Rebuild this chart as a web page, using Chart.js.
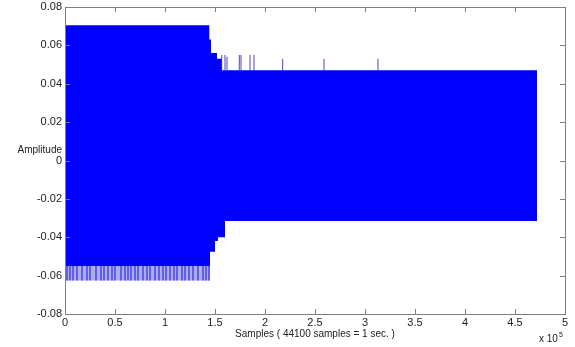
<!DOCTYPE html>
<html>
<head>
<meta charset="utf-8">
<script src="https://cdn.jsdelivr.net/npm/chart.js@4.4.1/dist/chart.umd.min.js"></script>
<style>
  html, body { margin: 0; padding: 0; background: #fff; }
  canvas { display: block; }
</style>
</head>
<body>
<canvas id="wave-chart" width="575" height="347"></canvas>
<script>
// Envelope of the waveform (x in units of 10^5 samples), stepped
const envX     = [0, 1.443, 1.45, 1.46, 1.5, 1.52, 1.53, 1.567, 1.6, 4.72];
const envUpper = [0.0705, 0.063, 0.063, 0.056, 0.056, 0.053, 0.053, 0.047, 0.047, 0.047];
const envLower = [-0.055, -0.055, -0.0475, -0.0475, -0.042, -0.042, -0.040, -0.040, -0.0315, -0.0315];

// Isolated peaks above the second block
const peakX    = [1.567, 1.60, 1.62, 1.743, 1.76, 1.85, 1.89, 2.177, 2.59, 3.13];
const peakTop  = [0.055, 0.055, 0.054, 0.055, 0.055, 0.055, 0.055, 0.053, 0.053, 0.053];
const peakBase = 0.047;

// Dense negative peaks under the first block
const troughX = [0.02, 0.05, 0.08, 0.12, 0.17, 0.22, 0.25, 0.31, 0.36, 0.39, 0.43, 0.47, 0.5,
                 0.56, 0.6, 0.63, 0.66, 0.7, 0.73, 0.78, 0.82, 0.85, 0.9, 0.94, 0.98, 1.01,
                 1.05, 1.09, 1.12, 1.17, 1.2, 1.24, 1.28, 1.33, 1.38, 1.41, 1.44];
const troughBottom = -0.0625;
const troughBase = -0.055;
const troughEnd = 1.45;

// Axis ticks
const xTicks = [0, 0.5, 1, 1.5, 2, 2.5, 3, 3.5, 4, 4.5, 5];
const yTicks = [-0.08, -0.06, -0.04, -0.02, 0, 0.02, 0.04, 0.06, 0.08];

const BLUE = '#0000ff';
const AXIS = '#808080';
const TEXT = '#222222';
const FONT = 'Liberation Sans, Arial, sans-serif';

// Turn x positions into vertical segments separated by gaps
function segments(xs, lo, hi) {
  const pts = [];
  xs.forEach((x, i) => {
    const top = Array.isArray(hi) ? hi[i] : hi;
    pts.push({ x: x, y: lo }, { x: x, y: top }, { x: NaN, y: NaN });
  });
  return pts;
}

// Box and inward ticks, MATLAB style, plus axis titles
const matlabAxes = {
  id: 'matlabAxes',
  afterDraw(chart) {
    const { ctx, chartArea: a, scales } = chart;
    ctx.save();
    ctx.strokeStyle = AXIS;
    ctx.lineWidth = 1;
    ctx.strokeRect(Math.round(a.left) + 0.5, Math.round(a.top) + 0.5,
                   Math.round(a.right - a.left), Math.round(a.bottom - a.top));
    ctx.beginPath();
    scales.x.ticks.forEach(t => {
      const px = Math.round(scales.x.getPixelForValue(t.value)) + 0.5;
      ctx.moveTo(px, a.bottom); ctx.lineTo(px, a.bottom - 5);
      ctx.moveTo(px, a.top); ctx.lineTo(px, a.top + 5);
    });
    scales.y.ticks.forEach(t => {
      const py = Math.round(scales.y.getPixelForValue(t.value)) + 0.5;
      ctx.moveTo(a.left, py); ctx.lineTo(a.left + 5, py);
      ctx.moveTo(a.right, py); ctx.lineTo(a.right - 5, py);
    });
    ctx.stroke();

    ctx.fillStyle = TEXT;
    ctx.font = '10px ' + FONT;
    ctx.textAlign = 'right';
    ctx.textBaseline = 'middle';
    ctx.fillText('Amplitude', a.left - 3, scales.y.getPixelForValue(0) - 10);

    ctx.textAlign = 'center';
    ctx.fillText('Samples ( 44100 samples = 1 sec. )', (a.left + a.right) / 2, 334);

    ctx.textAlign = 'left';
    ctx.fillText('x 10', 539, 339);
    ctx.font = '7px ' + FONT;
    ctx.fillText('5', 559, 335);
    ctx.restore();
  }
};

const canvas = document.getElementById('wave-chart');
new Chart(canvas.getContext('2d'), {
  type: 'line',
  data: {
    datasets: [
      {
        data: envX.map((x, i) => ({ x: x, y: envUpper[i] })),
        stepped: 'before',
        borderWidth: 0,
        pointRadius: 0,
        backgroundColor: BLUE,
        fill: '+1'
      },
      {
        data: envX.map((x, i) => ({ x: x, y: envLower[i] })),
        stepped: 'before',
        borderWidth: 0,
        pointRadius: 0,
        fill: false
      },
      {
        // pale band behind the dense troughs
        data: [{ x: 0, y: troughBottom }, { x: troughEnd, y: troughBottom }],
        borderWidth: 0,
        pointRadius: 0,
        backgroundColor: 'rgba(90, 90, 220, 0.5)',
        fill: { value: troughBase }
      },
      {
        data: segments(troughX, troughBase, troughBottom),
        borderColor: BLUE,
        borderWidth: 1.2,
        pointRadius: 0,
        spanGaps: false,
        fill: false
      },
      {
        data: segments(peakX, peakBase, peakTop),
        borderColor: 'rgba(40, 40, 190, 0.85)',
        borderWidth: 1,
        pointRadius: 0,
        spanGaps: false,
        fill: false
      }
    ]
  },
  options: {
    responsive: false,
    devicePixelRatio: 1,
    animation: false,
    layout: { padding: { top: 7, right: 10, left: 0, bottom: 0 } },
    plugins: { legend: { display: false }, tooltip: { enabled: false } },
    scales: {
      x: {
        type: 'linear',
        min: 0,
        max: 5,
        afterBuildTicks: s => { s.ticks = xTicks.map(v => ({ value: v })); },
        afterFit: s => { s.height = 33; s.paddingLeft = 0; s.paddingRight = 0; },
        grid: { display: false, drawTicks: false, tickLength: 0 },
        border: { display: false },
        ticks: {
          color: TEXT,
          font: { family: FONT, size: 11 },
          padding: 2,
          maxRotation: 0,
          callback: v => String(v)
        }
      },
      y: {
        type: 'linear',
        min: -0.08,
        max: 0.08,
        afterBuildTicks: s => { s.ticks = yTicks.map(v => ({ value: v })); },
        afterFit: s => { s.width = 65; s.paddingTop = 0; s.paddingBottom = 0; },
        grid: { display: false, drawTicks: false, tickLength: 0 },
        border: { display: false },
        ticks: {
          color: TEXT,
          font: { family: FONT, size: 11 },
          padding: 3,
          callback: v => String(+v.toFixed(2))
        }
      }
    }
  },
  plugins: [matlabAxes]
});
</script>
</body>
</html>
